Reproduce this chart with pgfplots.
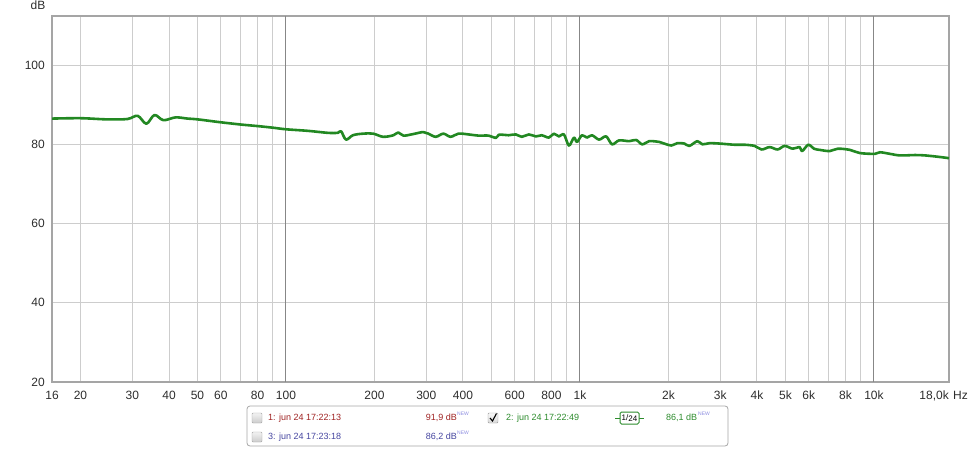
\documentclass[border=0pt]{standalone}
\usepackage{pgfplots}
\pgfplotsset{compat=1.18}
\usepackage{fontspec}
\setmainfont{Liberation Sans}
\definecolor{curvegreen}{RGB}{34,136,34}
\definecolor{lightgrid}{RGB}{205,205,205}
\definecolor{darkgrid}{RGB}{135,135,135}
\definecolor{framegray}{RGB}{165,165,165}
\definecolor{ticktext}{RGB}{45,45,45}
\definecolor{redtxt}{RGB}{160,35,35}
\definecolor{bluetxt}{RGB}{70,70,160}
\definecolor{greentxt}{RGB}{45,140,45}
\definecolor{newtxt}{RGB}{140,140,225}
\pgfplotstableread{
f db
16 86.5
20 86.6
24.7 86.3
28.9 86.4
31.3 87.2
33.5 85.2
35.7 87.4
38.3 86.1
42.1 86.8
46.3 86.5
50.1 86.3
59.5 85.6
70.2 85.0
80.3 84.6
90.3 84.2
100 83.8
119 83.4
139 82.9
150 82.9
154 83.3
160 81.2
169 82.3
183 82.7
198 82.7
214 81.9
232 82.3
241 83.0
251 82.2
271 82.6
293 83.1
305 82.7
323 81.9
343 82.7
363 81.9
386 82.7
418 82.5
452 82.2
489 82.2
517 81.6
529 82.4
550 82.4
572 82.3
605 82.5
634 81.9
670 82.5
708 82.0
742 82.3
784 81.7
815 82.7
848 82.0
882 82.5
917 79.7
954 81.7
977 80.6
1016 82.3
1056 81.7
1099 82.3
1161 81.2
1227 82.0
1286 80.0
1359 81.0
1470 80.8
1553 81.1
1628 80.0
1720 80.8
1861 80.6
1935 80.2
2045 79.7
2143 80.3
2264 80.2
2355 79.6
2508 80.8
2608 80.0
2756 80.3
2980 80.2
3354 79.9
3628 79.9
3926 79.6
4149 78.7
4418 79.3
4701 78.7
4969 79.6
5290 78.9
5586 79.3
5700 78.3
5980 79.9
6250 78.9
6541 78.6
7073 78.3
7535 78.9
8281 78.6
8955 77.8
10080 77.6
10475 78.0
11340 77.6
12265 77.2
13800 77.3
14930 77.2
16790 76.8
18000 76.5
}\dataB
\begin{document}
\begin{tikzpicture}[x=1pt,y=1pt]
\useasboundingbox (-52,-66) rectangle (923,382);
\begin{axis}[
  at={(0,0)}, anchor=south west,
  scale only axis, width=897pt, height=366pt,
  xmode=log, xmin=16, xmax=18000, ymin=20, ymax=112.4,
  xtick={16,20,30,40,50,60,80,200,300,400,600,800,2000,3000,4000,5000,6000,8000},
  xticklabels={16,20,30,40,50,60,80,200,300,400,600,800,2k,3k,4k,5k,6k,8k},
  minor xtick={70,90,500,700,900,7000,9000},
  extra x ticks={100,1000,10000},
  extra x tick labels={100,1k,10k},
  extra x tick style={grid=major, major grid style={draw=darkgrid, line width=1pt}},
  ytick={20,40,60,80,100},
  grid=both,
  major grid style={draw=lightgrid, line width=1pt},
  minor grid style={draw=lightgrid, line width=1pt},
  major tick length=0pt, minor tick length=0pt,
  axis line style={draw=framegray, line width=2.2pt},
  tick label style={font=\fontsize{12}{14}\selectfont, text=ticktext},
  xticklabel style={anchor=north, inner sep=0pt, yshift=-9pt},
  yticklabel style={anchor=east, inner sep=0pt, xshift=-7pt},
  /pgf/number format/assume math mode=true,
  log basis x=10,
]
\addplot[curvegreen, line width=2.6pt, smooth, tension=0.55, line join=round] table[x=f, y=db] {\dataB};
\end{axis}
% axis unit labels
\node[anchor=base, font=\fontsize{12}{14}\selectfont, text=ticktext, inner sep=0pt] at (-14,372) {dB};
\node[anchor=north east, font=\fontsize{12}{14}\selectfont, text=ticktext, inner sep=0pt] at (897,-9) {18,0k};
\node[anchor=north west, font=\fontsize{12}{14}\selectfont, text=ticktext, inner sep=0pt] at (901,-9) {Hz};
% legend box
\draw[draw=gray!70, line width=0.8pt, rounded corners=3pt, fill=white] (195,-24) rectangle (676,-64);
\begin{scope}[font=\fontsize{9}{10}\selectfont]
  \shade[top color=gray!10, bottom color=gray!40, draw=gray!70, rounded corners=1pt] (200,-41) rectangle (210,-31);
  \node[anchor=west, text=redtxt, inner sep=0pt] at (216,-36) {1: jun 24 17:22:13};
  \node[anchor=east, text=redtxt, inner sep=0pt] at (405,-36) {91,9 dB};
  \node[anchor=west, text=newtxt, inner sep=0pt, font=\fontsize{5}{6}\selectfont] at (405,-32) {NEW};
  \shade[top color=gray!10, bottom color=gray!40, draw=gray!70, rounded corners=1pt] (200,-60) rectangle (210,-50);
  \node[anchor=west, text=bluetxt, inner sep=0pt] at (216,-55) {3: jun 24 17:23:18};
  \node[anchor=east, text=bluetxt, inner sep=0pt] at (405,-55) {86,2 dB};
  \node[anchor=west, text=newtxt, inner sep=0pt, font=\fontsize{5}{6}\selectfont] at (405,-51) {NEW};
  \shade[top color=gray!5, bottom color=gray!30, draw=gray!80, rounded corners=1pt] (436,-41) rectangle (446,-31);
  \draw[black, line width=1.1pt] (438,-36) -- (440.5,-39) -- (444.5,-31.5);
  \node[anchor=west, text=greentxt, inner sep=0pt] at (454,-36) {2: jun 24 17:22:49};
  \draw[greentxt, line width=1pt] (563,-36) -- (592,-36);
  \draw[greentxt, line width=1pt, rounded corners=1.5pt, fill=white] (568,-42) rectangle (587,-30);
  \node[text=black, inner sep=0pt, font=\fontsize{8}{9}\selectfont] at (577.5,-36) {1/\raisebox{-1.5pt}{24}};
  \node[anchor=west, text=greentxt, inner sep=0pt] at (614,-36) {86,1 dB};
  \node[anchor=west, text=newtxt, inner sep=0pt, font=\fontsize{5}{6}\selectfont] at (646,-32) {NEW};
\end{scope}
\end{tikzpicture}
\end{document}
